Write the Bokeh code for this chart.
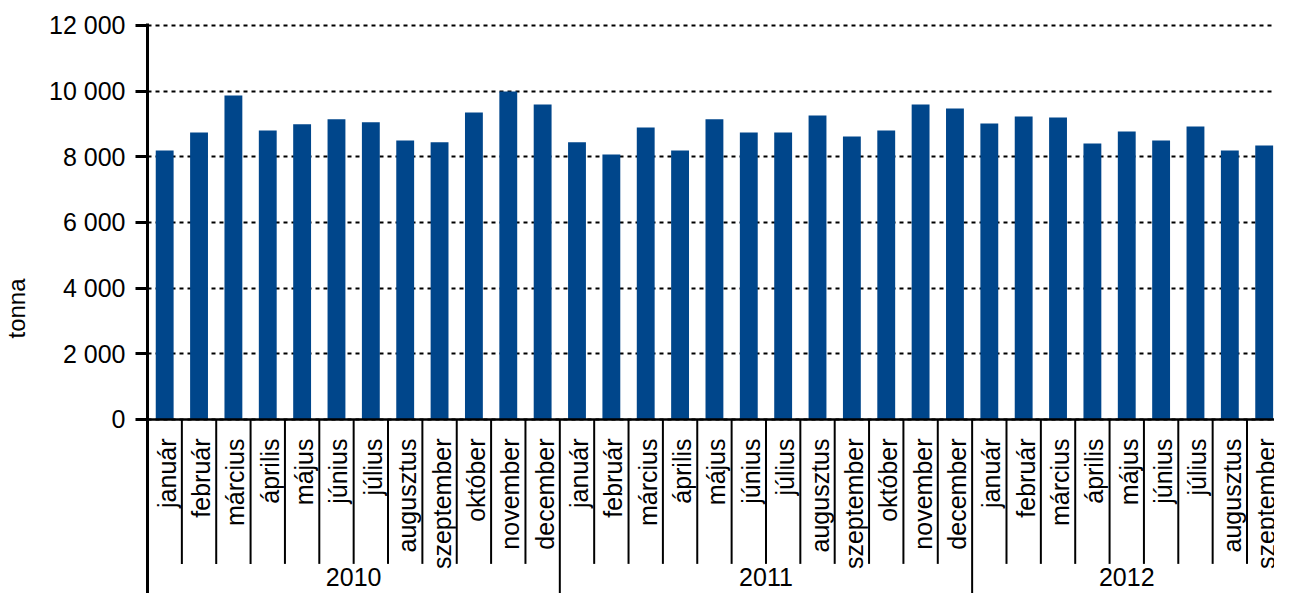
import numpy as np
from bokeh.plotting import figure
from bokeh.models import FixedTicker, Range1d, Span, ColumnDataSource
from bokeh.core.properties import value
from bokeh.embed import file_html
from bokeh.resources import INLINE

# ---- data ----
months = ["január", "február", "március", "április", "május", "június",
          "július", "augusztus", "szeptember", "október", "november", "december"]
years = ["2010", "2011", "2012"]
values_2010 = [8190, 8740, 9870, 8800, 8990, 9140, 9050, 8500, 8440, 9350, 9990, 9595]
values_2011 = [8440, 8070, 8890, 8190, 9140, 8740, 8740, 9260, 8620, 8800, 9595, 9470]
values_2012 = [9015, 9230, 9200, 8405, 8770, 8500, 8925, 8190, 8345]
y_ticks = [0, 2000, 4000, 6000, 8000, 10000, 12000]
y_tick_labels = ["0", "2 000", "4 000", "6 000", "8 000", "10 000", "12 000"]
y_label = "tonna"

FONT = "Liberation Sans"
BAR = "#00468B"

vals = values_2010 + values_2011 + values_2012
cats = [(y, m) for y, vs in zip(years, [values_2010, values_2011, values_2012])
        for m, _ in zip(months, vs)]
n = len(vals)
xc = np.arange(n) + 0.5

p = figure(width=1274, height=593, output_backend="svg", toolbar_location=None,
           x_range=Range1d(0, 32.8), y_range=Range1d(-5302, 12060),
           min_border_left=141, min_border_top=23, min_border_right=0,
           min_border_bottom=0)
p.outline_line_color = None
p.xaxis.visible = False
p.xgrid.visible = False

# y axis
ya = p.yaxis[0]
ya.ticker = FixedTicker(ticks=y_ticks)
ya.major_label_overrides = {t: l for t, l in zip(y_ticks, y_tick_labels)}
ya.minor_tick_line_color = None
ya.major_tick_in = 0
ya.major_tick_out = 12
ya.major_tick_line_width = 3
ya.major_tick_line_color = "black"
ya.axis_line_width = 3
ya.axis_line_color = "black"
ya.major_label_text_font = FONT
ya.major_label_text_font_size = "25px"
ya.major_label_text_color = "black"
ya.major_label_standoff = 10
ya.axis_label = y_label
ya.axis_label_text_font = FONT
ya.axis_label_text_font_size = "24px"
ya.axis_label_text_font_style = "normal"
ya.axis_label_text_color = "black"
ya.axis_label_standoff = 16

p.ygrid.ticker = FixedTicker(ticks=y_ticks)
p.ygrid.grid_line_color = "black"
p.ygrid.grid_line_width = 2.2
p.ygrid.grid_line_dash = "4 4"

# bars
src = ColumnDataSource(dict(x=xc, top=vals, label=[m for _, m in cats]))
p.vbar(x="x", top="top", bottom=0, width=0.52, source=src,
       fill_color=BAR, line_color=None)

# zero line
p.add_layout(Span(location=0, dimension="width", line_color="black", line_width=2.5))

# month labels
p.text(x="x", y=-580, text="label", source=src, angle=np.pi / 2,
       text_align="right", text_baseline="middle", x_offset=2,
       text_font=value(FONT), text_font_size="25px", text_color="black")

# separators
counts = [len(values_2010), len(values_2011), len(values_2012)]
bounds = np.cumsum(counts)
year_starts = np.concatenate([[0], bounds])
short = [i for i in range(1, n) if i not in bounds]
p.segment(x0=short, y0=0, x1=short, y1=-4400, line_color="black", line_width=2)
long_ = [int(b) for b in bounds]
p.segment(x0=long_, y0=0, x1=long_, y1=-5302, line_color="black", line_width=2)

# year labels
yc = [(year_starts[i] + year_starts[i + 1]) / 2 for i in range(len(years))]
p.text(x=yc, y=[-4810] * len(years), text=years, text_align="center",
       text_baseline="middle", text_font=value(FONT), text_font_size="25px",
       text_color="black")

open("out.html", "w").write(file_html(p, INLINE))
